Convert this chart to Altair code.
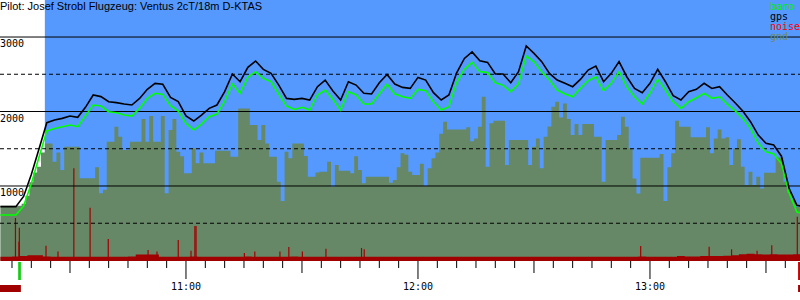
import altair as alt
import pandas as pd

# time axis: minutes since midnight; line series every 2 minutes, ground every minute, from 10:12
T_START = 612
T_STEP = 2
GND_STEP = 1
X_DOMAIN = [611.9, 818.8]
Y_DOMAIN = [-7, 3497]

gps = [723, 723, 723, 860, 1155, 1500, 1850, 1886, 1908, 1939, 1922, 2056, 2222, 2200, 2132, 2119, 2101, 2087, 2176, 2298, 2378,
       2365, 2190, 2132, 1940, 1872, 1953, 2042, 2087, 2266, 2503, 2400, 2593, 2678, 2566, 2512, 2355, 2176, 2163, 2176, 2154, 2333,
       2422, 2275, 2154, 2400, 2355, 2244, 2235, 2386, 2498, 2368, 2324, 2310, 2458, 2422, 2253, 2154, 2221, 2520, 2713, 2800, 2682,
       2660, 2503, 2503, 2386, 2534, 2879, 2780, 2669, 2512, 2422, 2378, 2333, 2431, 2557, 2610, 2400, 2512, 2669, 2467, 2310,
       2253, 2378, 2566, 2400, 2212, 2154, 2266, 2297, 2378, 2310, 2333, 2221, 2118, 2007, 1863, 1684, 1573, 1550, 1400, 965, 740, 723]

baro = [611, 611, 611, 730, 1030, 1390, 1740, 1773, 1796, 1818, 1796, 1940, 2087, 2073, 1997, 1984, 1953, 1939, 2042, 2176, 2244,
        2230, 2078, 2006, 1841, 1751, 1832, 1930, 1966, 2132, 2368, 2244, 2458, 2535, 2445, 2400, 2235, 2073, 2028, 2056, 2020, 2222,
        2288, 2163, 2020, 2266, 2222, 2101, 2101, 2235, 2364, 2235, 2198, 2176, 2297, 2280, 2132, 2020, 2064, 2386, 2566, 2660, 2535,
        2525, 2386, 2351, 2266, 2368, 2744, 2668, 2534, 2422, 2288, 2235, 2198, 2310, 2413, 2467, 2280, 2378, 2534, 2333, 2198,
        2101, 2244, 2431, 2288, 2132, 2042, 2132, 2185, 2244, 2176, 2198, 2096, 2011, 1908, 1774, 1572, 1460, 1429, 1300, 901, 650, 630]

gnd = [736, 736, 736, 736, 736, 736, 760, 870, 1050, 1180, 1260, 1450, 1572, 1572, 1326, 1450, 1215, 1527, 1527, 1527, 1527,
       1103, 1103, 1103, 1103, 1250, 901, 950, 1594, 1594, 1796, 1662, 1483, 1483, 1594, 1594, 1594, 1900, 1594, 1939, 1594, 1594,
       1939, 901, 1751, 1900, 1460, 1400, 1170, 1170, 1505, 1304, 1450, 1304, 1304, 1304, 1474, 1474, 1474, 1474, 1393, 1393,
       2042, 2042, 2042, 1818, 1818, 1617, 1818, 1572, 1393, 1393, 1058, 800, 1460, 1371, 1572, 1572, 1572, 1402, 1125, 1125, 1180,
       1192, 1192, 1326, 990, 1281, 1206, 1206, 1206, 1170, 1400, 1214, 1036, 1125, 1125, 1125, 1125, 1125, 1125, 1044, 1080,
       1250, 1438, 1420, 1192, 1147, 1147, 1300, 1000, 1237, 1371, 1450, 1700, 1863, 1760, 1760, 1760, 1760, 1760, 1790, 1600, 1639, 1796,
       2198, 1259, 1841, 1876, 1876, 1876, 1281, 1617, 1617, 1617, 1617, 1617, 1281, 1527, 1639, 1237, 1662, 1800, 2064, 2132,
       1921, 2109, 1900, 1684, 1832, 1684, 1832, 1832, 1832, 1662, 1662, 1058, 1617, 1617, 1617, 1684, 1930, 1796, 1505, 1100, 900,
       1380, 1380, 1380, 1380, 1380, 1429, 800, 1250, 1438, 1876, 1796, 1796, 1796, 1653, 1653, 1653, 1653, 1790, 1438, 1639,
       1760, 1639, 1653, 1281, 1505, 1626, 1259, 1013, 1192, 1013, 1125, 968, 1179, 1179, 1179, 1384, 1384, 1058, 910, 812, 722, 722]

noise = [50, 50, 55, 60, 70, 70, 55, 50, 50, 50, 50, 50, 50, 50, 50, 50, 50, 55, 80, 80, 80,
         50, 50, 50, 50, 55, 50, 50, 50, 50, 50, 50, 55, 50, 50, 50, 50, 50, 55, 50, 50, 50,
         50, 50, 50, 50, 50, 50, 50, 50, 50, 50, 50, 50, 50, 50, 50, 50, 50, 50, 50, 50, 50,
         50, 50, 50, 50, 50, 50, 50, 50, 50, 50, 50, 50, 50, 50, 50, 50, 50, 50, 50, 50,
         55, 50, 50, 50, 50, 60, 55, 55, 60, 60, 60, 65, 70, 85, 90, 85, 80, 85, 80, 80, 85, 85]

spike_t = [615.9, 616.8, 616.9, 623.8, 626.9, 631.0, 635.2, 639.9, 650.2, 652.5, 658.0, 661.3, 662.3, 662.6,
           675.1, 677.8, 684.3, 686.6, 690.1, 696.2, 705.4, 706.1, 777.6, 795.3, 801.1, 807.7, 811.5, 818.1]
spike_v = [570, 252, 440, 199, 120, 1238, 709, 289, 140, 120, 275, 131, 463, 463,
           100, 120, 120, 181, 120, 158, 168, 150, 195, 185, 150, 130, 205, 588]

solid_levels = [1000, 2000, 3000]
dashed_levels = [500, 1500, 2500]
ylabel_levels = [1000, 2000, 3000]

minor_ticks = [615, 620, 625, 635, 640, 645, 650, 655, 665, 670, 675, 680, 685, 695, 700, 705, 710, 715,
               725, 730, 735, 740, 745, 755, 760, 765, 770, 775, 785, 790, 795, 800, 805, 815]
half_ticks = [630, 690, 750, 810]
hour_ticks = [660, 720, 780]
hour_labels = ["11:00", "12:00", "13:00"]

flight_start = 623.5
flight_end = 818.8
launch = [616.6, 617.3]
landing = [818.3, 818.9]

title_text = "Pilot: Josef Strobl Flugzeug: Ventus 2cT/18m D-KTAS"
legend_names = ["baro", "gps", "noise", "gnd"]
legend_colors = ["#00ee00", "#000000", "#ff0000", "#6e8a66"]

SKY = "#5599ff"
GND = "#668866"
NOISE = "#a00000"
MONO = "DejaVu Sans Mono"

times = [T_START + T_STEP * i for i in range(len(gps))]
df = pd.DataFrame({"t": times, "gps": gps, "baro": baro, "noise": noise})
gnd_df = pd.DataFrame({"t": [T_START + GND_STEP * i for i in range(len(gnd))], "gnd": gnd})

xs = alt.Scale(domain=X_DOMAIN, nice=False, zero=False)
ys = alt.Scale(domain=Y_DOMAIN, nice=False, zero=False)


def X(field):
    return alt.X(field, type="quantitative", scale=xs, axis=None)


def Y(field):
    return alt.Y(field, type="quantitative", scale=ys, axis=None)


base = alt.Chart(df)

sky = alt.Chart(pd.DataFrame({"s": [flight_start], "e": [flight_end]})).mark_rect(color=SKY).encode(
    x=X("s"), x2="e", y=alt.value(0), y2=alt.value(261))

ground = alt.Chart(gnd_df).mark_area(interpolate="step", color=GND, clip=True).encode(
    x=X("t"), y=Y("gnd"), y2=alt.datum(0))

noise_area = base.mark_area(interpolate="step", color=NOISE, clip=True).encode(
    x=X("t"), y=Y("noise"), y2=alt.datum(-7))

spikes = alt.Chart(pd.DataFrame({"t": spike_t, "v": spike_v})).mark_rule(
    color=NOISE, strokeWidth=1.2).encode(x=X("t"), y=Y("v"), y2=alt.datum(-7))

grid_solid = alt.Chart(pd.DataFrame({"v": solid_levels})).mark_rule(
    color="black", strokeWidth=1).encode(y=Y("v"), x=alt.value(0), x2=alt.value(800))
grid_dash = alt.Chart(pd.DataFrame({"v": dashed_levels})).mark_rule(
    color="black", strokeWidth=1, strokeDash=[4, 3]).encode(y=Y("v"), x=alt.value(0), x2=alt.value(800))

baro_line = base.mark_line(color="#00ff00", strokeWidth=1.6, interpolate="linear", clip=True).encode(
    x=X("t"), y=Y("baro"))
gps_line = base.mark_line(color="black", strokeWidth=1.6, interpolate="linear", clip=True).encode(
    x=X("t"), y=Y("gps"))

ylabels = alt.Chart(pd.DataFrame({"v": ylabel_levels})).mark_text(
    align="left", baseline="alphabetic", font=MONO, fontSize=10, dy=10, color="black").encode(
    y=Y("v"), x=alt.value(0), text=alt.Text("v:Q", format="d"))

t_minor = alt.Chart(pd.DataFrame({"t": minor_ticks})).mark_rule(color="black").encode(
    x=X("t"), y=alt.value(261), y2=alt.value(268))
t_half = alt.Chart(pd.DataFrame({"t": half_ticks})).mark_rule(color="black").encode(
    x=X("t"), y=alt.value(261), y2=alt.value(273))
t_hour = alt.Chart(pd.DataFrame({"t": hour_ticks})).mark_rule(color="black").encode(
    x=X("t"), y=alt.value(261), y2=alt.value(279))
t_labels = alt.Chart(pd.DataFrame({"t": hour_ticks, "lab": hour_labels})).mark_text(
    align="center", baseline="alphabetic", font=MONO, fontSize=10, color="black").encode(
    x=X("t"), y=alt.value(289.5), text="lab:N")

m_launch = alt.Chart(pd.DataFrame({"a": [launch[0]], "b": [launch[1]]})).mark_rect(color="#11cc11").encode(
    x=X("a"), x2="b", y=alt.value(262), y2=alt.value(280))
m_start = alt.Chart(pd.DataFrame({"a": [X_DOMAIN[0]], "b": [launch[1]]})).mark_rect(color=NOISE).encode(
    x=X("a"), x2="b", y=alt.value(285), y2=alt.value(292))
m_land = alt.Chart(pd.DataFrame({"a": [landing[0]], "b": [landing[1]]})).mark_rect(color="#cc0000").encode(
    x=X("a"), x2="b", y=alt.value(262), y2=alt.value(280))
m_land2 = alt.Chart(pd.DataFrame({"a": [landing[0]], "b": [landing[1]]})).mark_rect(color=NOISE).encode(
    x=X("a"), x2="b", y=alt.value(285), y2=alt.value(292))

title = alt.Chart(pd.DataFrame({"s": [title_text]})).mark_text(
    align="left", baseline="alphabetic", font="Liberation Sans", fontSize=11, color="black").encode(
    x=alt.value(0), y=alt.value(10), text="s:N")

legend_layers = []
for i, (name, col) in enumerate(zip(legend_names, legend_colors)):
    legend_layers.append(
        alt.Chart(pd.DataFrame({"s": [name]})).mark_text(
            align="left", baseline="alphabetic", font=MONO, fontSize=10, color=col).encode(
            x=alt.value(770), y=alt.value(10 + 10 * i), text="s:N"))

chart = alt.layer(
    sky, ground, noise_area, spikes, grid_solid, grid_dash, baro_line, gps_line,
    ylabels, t_minor, t_half, t_hour, t_labels, m_launch, m_start, m_land, m_land2, title,
    *legend_layers
).properties(
    width=800, height=261,
    autosize=alt.AutoSizeParams(type="none"),
    padding={"left": 0, "top": 0, "right": 0, "bottom": 39},
    background="white",
).configure_view(stroke=None)

chart.save("out.html", embed_options={"renderer": "svg", "actions": False})
